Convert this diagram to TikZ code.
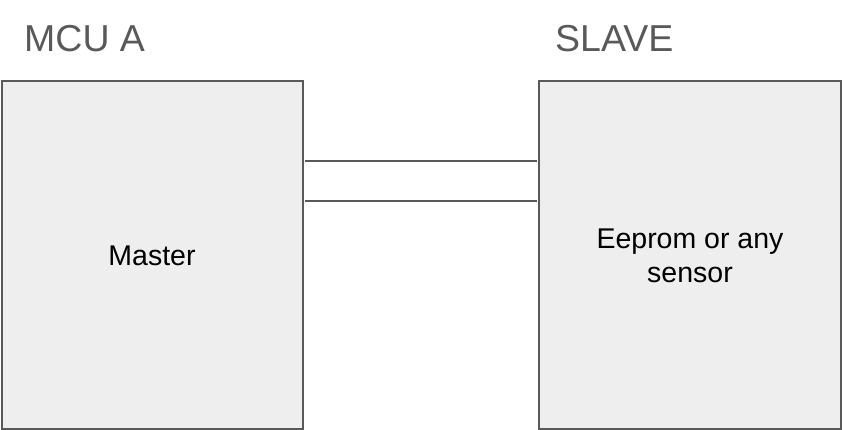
\documentclass[tikz,border=0pt]{standalone}
\usepackage{fontspec}
\setmainfont{Liberation Sans}
\definecolor{edge}{HTML}{595959}
\definecolor{boxfill}{HTML}{EEEEEE}
\begin{document}
\begin{tikzpicture}[x=1pt,y=-1pt,
  blockbox/.style={draw=edge,fill=boxfill,line width=1.8pt},
  title/.style={text=edge,font=\fontsize{37.5}{44}\selectfont,anchor=base west,inner sep=0pt},
  label/.style={text=black,font=\fontsize{28.5}{34}\selectfont,align=center,inner sep=0pt},
  wire/.style={draw=edge,line width=2.2pt}]
\useasboundingbox (0,0) rectangle (842,430);
\node[blockbox,minimum width=301pt,minimum height=348pt,inner sep=0pt] (mcu) at (152.5,255) {};
\node[blockbox,minimum width=302pt,minimum height=348pt,inner sep=0pt] (slave) at (690,255) {};
\node[title] (t1) at (24,52) {MCU A};
\node[title] (t2) at (555,52) {SLAVE};
\node[label] (m) at (152,256) {Master};
\node[label] (s) at (690,256) {Eeprom or any\\sensor};
\coordinate (a1) at (305,161);
\coordinate (b1) at (537,161);
\coordinate (a2) at (305,201);
\coordinate (b2) at (537,201);
\draw[wire] (a1) -- (b1);
\draw[wire] (a2) -- (b2);
\end{tikzpicture}
\end{document}
